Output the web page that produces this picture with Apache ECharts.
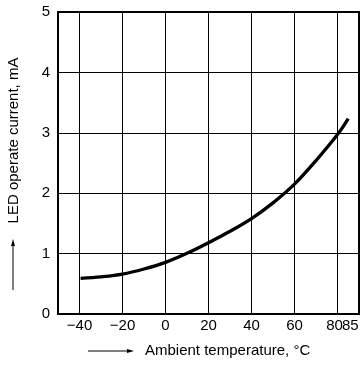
<!DOCTYPE html>
<html>
<head>
<meta charset="utf-8">
<script src="https://cdn.jsdelivr.net/npm/echarts@6/dist/echarts.min.js"></script>
<style>html,body{margin:0;padding:0;background:#fff}#c{width:364px;height:365px}</style>
</head>
<body>
<div id="c"></div>
<script>
const temps = [-39.5, -30, -20, -10, 0, 10, 20, 30, 40, 50, 60, 70, 80, 85];
const current = [0.59, 0.615, 0.66, 0.745, 0.855, 1.005, 1.18, 1.37, 1.58, 1.84, 2.15, 2.54, 2.97, 3.235];
const xTickLabels = [-40, -20, 0, 20, 40, 60, 80];
const xExtraLabels = [85];
const xGridValues = [-40, -20, 0, 20, 40, 60, 80];
const xName = 'Ambient temperature, °C';
const yName = 'LED operate current, mA';

const FONT = '"Liberation Sans", Arial, sans-serif';
const txt = { color: '#000', fontSize: 15, fontFamily: FONT };
const fmt = v => {
  const s = String(v).replace('-', '\u2212');
  if (v === 80) return '{l|' + s + '}';
  if (v === 85) return '{r|' + s + '}';
  return s;
};
const labelStyle = Object.assign({}, txt, { margin: 4, hideOverlap: false, formatter: fmt,
  rich: { l: Object.assign({ padding: [0, 6, 0, 0] }, txt), r: Object.assign({ padding: [0, 0, 0, 4] }, txt) } });
const chart = echarts.init(document.getElementById('c'));
chart.setOption({
  animation: false,
  backgroundColor: '#fff',
  grid: { left: 58, top: 12, width: 301, height: 302, show: true, borderColor: '#000', borderWidth: 2, backgroundColor: 'transparent' },
  xAxis: [{
    type: 'value', min: -50, max: 90,
    axisLine: { show: true, onZero: false, lineStyle: { color: '#000', width: 2 } },
    axisTick: { show: false },
    splitLine: { show: false },
    axisLabel: Object.assign({ customValues: xTickLabels }, labelStyle)
  }, {
    type: 'value', min: -50, max: 90, position: 'bottom',
    axisLine: { show: false, onZero: false },
    axisTick: { show: false },
    splitLine: { show: false },
    axisLabel: Object.assign({ customValues: xExtraLabels }, labelStyle)
  }],
  yAxis: {
    type: 'value', min: 0, max: 5, interval: 1,
    axisLine: { show: true, onZero: false, lineStyle: { color: '#000', width: 2 } },
    axisTick: { show: false },
    splitLine: { show: true, lineStyle: { color: '#000', width: 1 } },
    axisLabel: { color: '#000', fontSize: 15, fontFamily: FONT, margin: 8 }
  },
  series: [{
    type: 'line', smooth: 0.35, symbol: 'none', xAxisIndex: 0,
    data: temps.map((t, i) => [t, current[i]]),
    lineStyle: { color: '#000', width: 3.3 },
    z: 5,
    markLine: {
      silent: true, symbol: 'none', animation: false,
      label: { show: false },
      lineStyle: { color: '#000', width: 1, type: 'solid' },
      data: xGridValues.map(v => ({ xAxis: v }))
    }
  }],
  graphic: [
    { type: 'line', shape: { x1: 88, y1: 351, x2: 131, y2: 351 }, style: { stroke: '#000', lineWidth: 1 } },
    { type: 'polygon', shape: { points: [[134, 351], [127, 349], [127, 353]] }, style: { fill: '#000' } },
    { type: 'text', left: 145, top: 343, style: { text: xName, fontSize: 15, fontFamily: FONT, fill: '#000' } },
    { type: 'line', shape: { x1: 13, y1: 290, x2: 13, y2: 243 }, style: { stroke: '#000', lineWidth: 1 } },
    { type: 'polygon', shape: { points: [[13, 239], [11, 246], [15, 246]] }, style: { fill: '#000' } },
    { type: 'text', x: 14, y: 140.5, rotation: Math.PI / 2, style: { text: yName, fontSize: 15, fontFamily: FONT, fill: '#000', align: 'center', verticalAlign: 'middle' } }
  ]
});
</script>
</body>
</html>
